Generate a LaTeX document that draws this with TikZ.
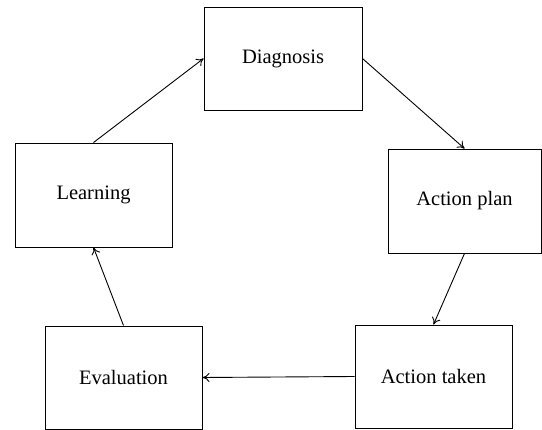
\documentclass[tikz,border=0pt]{standalone}
\usepackage{fontspec}
\setmainfont{Liberation Serif}
\usetikzlibrary{arrows.meta}
\begin{document}
\begin{tikzpicture}[x=1pt,y=-1pt,
  stagebox/.style={draw, line width=0.9pt, inner sep=0pt, font=\fontsize{20.5}{24}\selectfont},
  flow/.style={draw, line width=0.9pt, -{To[length=7pt,width=9pt]}}]
\useasboundingbox (0,0) rectangle (542,430);
\node[stagebox, minimum width=158pt, minimum height=103pt] (diag) at (283,58.5) {Diagnosis};
\node[stagebox, minimum width=153pt, minimum height=104pt] (plan) at (464.5,201) {Action plan};
\node[stagebox, minimum width=157pt, minimum height=103pt] (taken) at (433.5,376.5) {Action taken};
\node[stagebox, minimum width=157pt, minimum height=103pt] (eval) at (123.5,377.5) {Evaluation};
\node[stagebox, minimum width=157pt, minimum height=104pt] (learn) at (93.5,195) {Learning};
\draw[flow] (learn.north) -- (diag.west);
\draw[flow] (diag.east) -- (plan.north);
\draw[flow] (plan.south) -- (taken.north);
\draw[flow] (taken.west) -- (eval.east);
\draw[flow] (eval.north) -- (learn.south);
\end{tikzpicture}
\end{document}
